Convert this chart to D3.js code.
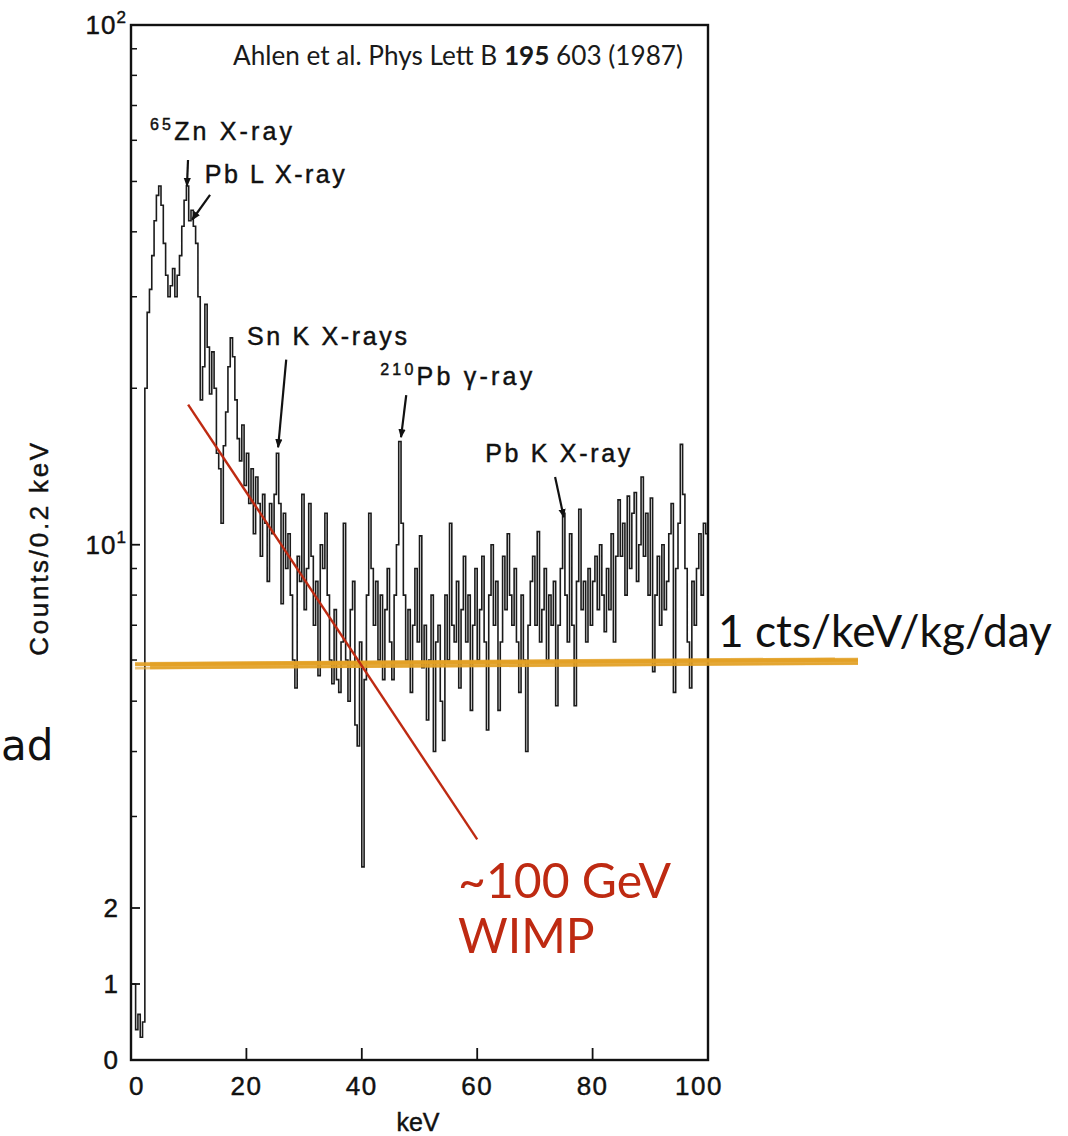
<!DOCTYPE html>
<html><head><meta charset="utf-8">
<script src="https://cdn.jsdelivr.net/npm/d3@7"></script>
<style>body{margin:0;background:#fff}svg{display:block}</style>
</head><body>
<svg id="c" width="1068" height="1136"></svg>
<script>
// ---------- data ----------
const binWidth = 0.4; // keV per plotted bin
const counts = [
 1.0,1.0,0.4,0.6,0.3,0.5,20,28,31,36,
 42,47,49,45,38,33,30,31.5,34,30,
 33,36,41,46,49,42,44,41,38,30,
 19,22,29,24,19.5,23.5,20,15,14,11,
 15.5,18,22,25,23,19,16,14.5,17,13,
 15,12,14,10.5,13.5,12,9.5,12.5,11,8.5,
 12,10.5,12.5,15,12,7.7,11.5,9,10.5,8,
 6,5.3,9.5,8.5,12.5,7.5,9,12,9.5,7,
 8.5,5.6,10,9,11.5,8,6,5.4,7.5,5.5,
 5.2,6.5,11,6,5.0,7.5,8.5,4.5,4.1,6.5,
 2.4,5.5,8,11.5,9,7,8.5,6,8,5.5,
 7.5,9,6.5,5.5,8,10,15.8,11,8,6,
 7.5,5.2,7,9,6.5,10.4,5.8,7,4.6,6,
 8,4.0,6.5,7,5,4.2,8,6,11,7,
 6.5,8.5,5.3,7.5,9.5,6.5,8,4.8,7,9,
 6,7.5,9.5,6.5,4.4,8,10,7,8.5,4.8,
 6.5,9.5,7.5,10.5,8,7,9,6.5,5.2,8,
 6,4.0,7,8.5,9.5,7,10.6,6.5,7.5,9,
 6,8,7,8.5,4.9,7,9,11.5,8,6.5,
 10.5,7,4.9,8.5,11.7,7.5,8.5,6.5,9,7,
 8.5,9.5,7.5,10,8,6.8,9,7.5,10.5,6.5,
 9.5,12.2,9.5,11,8,12.4,9,11.5,12.6,8.5,
 10,13.5,9.5,11.5,8,12.3,5.7,8,9.5,7,
 10,7.5,8.5,10.5,12,5.2,9,11,15.6,12.5,
 9,6.5,5.3,8.5,7,9,10.5,8,11,10.5
];
const xTicks = [0, 20, 40, 60, 80, 100];
const yTickValues = [100, 10, 2, 1, 0];
const yTickBase = ["10", "10", "2", "1", "0"];
const yTickSup = ["2", "1", "", "", ""];
const yMinorTicks = [3, 4, 5, 6, 7, 8, 9, 20, 30, 40, 50, 60, 70, 80, 90];

const peakSup = ["65", "", "", "210", ""];
const peakText = ["Zn X-ray", "Pb L X-ray", "Sn K X-rays", "Pb γ-ray", "Pb K X-ray"];
const peakTextKeV = [3.3, 12.8, 20.1, 43.2, 61.4];
const peakTextCounts = [60.1, 49.7, 24.2, 20.3, 14.4];
const arrowFromKeV = [9.88, 13.7, 26.9, 47.7, 73.5];
const arrowFromCounts = [55.0, 47.1, 22.7, 19.4, 13.5];
const arrowToKeV = [9.7, 10.6, 25.5, 46.8, 75.0];
const arrowToCounts = [49.0, 42.2, 15.4, 16.1, 11.3];

const rateKeV = [0.7, 126];
const rateCounts = [5.85, 5.97];
const rateLabel = "1 cts/keV/kg/day";

const wimpKeV = [9.9, 60.0];
const wimpCounts = [18.6, 2.71];
const wimpLabel = ["~100 GeV", "WIMP"];

const citation = ["Ahlen et al. Phys Lett B ", "195", " 603 (1987)"];
const xLabel = "keV";
const yLabel = "Counts/0.2 keV";
const handNote = "ad";

// ---------- scales ----------
const x = d3.scaleLinear().domain([0, 100]).range([131, 708]);
const yLog = d3.scaleLog().domain([2, 100]).range([908, 25]);
const yLin = d3.scaleLinear().domain([0, 2]).range([1060, 908]);
const y = v => v >= 2 ? yLog(v) : yLin(v);

const svg = d3.select("#c");
const scanFont = "'Liberation Sans', Arial, sans-serif";
const slideFont = "Lato, 'Open Sans', sans-serif";
const ink = "#111";

function fitSpacing(t, w) {
  const n = t.text().length;
  const cur = t.node().getComputedTextLength();
  if (n > 1) t.attr("letter-spacing", ((w - cur) / (n - 1)).toFixed(2));
}
function fitSize(t, w) {
  const fs = parseFloat(t.attr("font-size"));
  const cur = t.node().getComputedTextLength();
  t.attr("font-size", (fs * w / cur).toFixed(2));
}
function scanText(sel) {
  return sel.attr("font-family", scanFont).attr("fill", ink)
    .attr("stroke", ink).attr("stroke-width", 0.45);
}

// handwritten remnant at left
svg.append("text").attr("x", 1).attr("y", 760).attr("font-size", 42)
  .attr("font-family", "'DejaVu Sans'").attr("fill", "#111").text(handNote);

// ---------- spectrum ----------
const pts = counts.map((c, i) => [i * binWidth, c]);
pts.push([100, counts[counts.length - 1]]);
const line = d3.line().x(d => x(d[0])).y(d => y(d[1])).curve(d3.curveStepAfter);
svg.append("path").attr("d", line(pts)).attr("fill", "none")
  .attr("stroke", "#1b1b1b").attr("stroke-width", 1.6).attr("stroke-linejoin", "miter");

// ---------- frame & ticks ----------
svg.append("rect").attr("x", x(0)).attr("y", y(100)).attr("width", x(100) - x(0))
  .attr("height", y(0) - y(100)).attr("fill", "none").attr("stroke", ink).attr("stroke-width", 2.4);

const gx = svg.append("g");
xTicks.forEach(t => {
  if (t > 0 && t < 100)
    gx.append("line").attr("x1", x(t)).attr("x2", x(t)).attr("y1", y(0)).attr("y2", y(0) - 12)
      .attr("stroke", ink).attr("stroke-width", 1.8);
  const dx = t === 0 ? 6 : (t === 100 ? -9 : 0);
  scanText(gx.append("text")).attr("x", x(t) + dx).attr("y", 1095).attr("text-anchor", "middle")
    .attr("font-size", 26).attr("letter-spacing", 1.5).text(t);
});
scanText(svg.append("text")).attr("x", 418).attr("y", 1131).attr("text-anchor", "middle")
  .attr("font-size", 25).text(xLabel);

const gy = svg.append("g");
yMinorTicks.forEach(v => gy.append("line").attr("x1", x(0)).attr("x2", x(0) + 6)
  .attr("y1", y(v)).attr("y2", y(v)).attr("stroke", ink).attr("stroke-width", 1.5));
yTickValues.forEach((v, i) => {
  if (v > 0 && v < 100)
    gy.append("line").attr("x1", x(0)).attr("x2", x(0) + 9).attr("y1", y(v)).attr("y2", y(v))
      .attr("stroke", ink).attr("stroke-width", 1.8);
  const hasSup = yTickSup[i] !== "";
  const t = scanText(gy.append("text")).attr("x", hasSup ? 127 : 119).attr("y", y(v) + 9)
    .attr("text-anchor", "end").attr("font-size", 26).attr("letter-spacing", 1);
  t.append("tspan").text(yTickBase[i]);
  if (hasSup) t.append("tspan").attr("font-size", 17).attr("dy", -11).text(yTickSup[i]);
});
const yl = scanText(svg.append("text")).attr("transform", "translate(48,548) rotate(-90)")
  .attr("text-anchor", "middle").attr("font-size", 26).text(yLabel);
fitSpacing(yl, 213);

// ---------- peak annotations ----------
const peakWidths = [142, 140, 160, 152, 145];
peakText.forEach((s, i) => {
  const g = scanText(svg.append("text")).attr("x", x(peakTextKeV[i])).attr("y", y(peakTextCounts[i]))
    .attr("font-size", 25);
  if (peakSup[i]) {
    g.append("tspan").attr("font-size", 16).attr("dy", -10).text(peakSup[i]);
    g.append("tspan").attr("dy", 10).text(s);
  } else g.append("tspan").text(s);
  fitSpacing(g, peakWidths[i]);
});
const defs = svg.append("defs");
defs.append("marker").attr("id", "ah").attr("viewBox", "0 0 10 10").attr("refX", 9).attr("refY", 5)
  .attr("markerWidth", 9).attr("markerHeight", 9).attr("orient", "auto")
  .attr("markerUnits", "userSpaceOnUse")
  .append("path").attr("d", "M0,1 L10,5 L0,9 z").attr("fill", ink);
arrowFromKeV.forEach((k, i) => {
  svg.append("line").attr("x1", x(k)).attr("y1", y(arrowFromCounts[i]))
    .attr("x2", x(arrowToKeV[i])).attr("y2", y(arrowToCounts[i]))
    .attr("stroke", ink).attr("stroke-width", 2.2).attr("marker-end", "url(#ah)");
});

// ---------- citation ----------
const cit = svg.append("text").attr("x", 233).attr("y", 65).attr("font-family", slideFont)
  .attr("font-size", 21).attr("fill", "#1a1a1a");
cit.append("tspan").text(citation[0]);
cit.append("tspan").attr("font-weight", 700).text(citation[1]);
cit.append("tspan").text(citation[2]);
fitSize(cit, 450);

// ---------- rate line (brush stroke) ----------
const rateColor = "#E2A024";
const brush = svg.append("g");
[[0, 7, 0.85], [-2.5, 2.5, 0.7], [2.5, 2.5, 0.6], [-1, 3, 0.9]].forEach(([off, w, op], j) => {
  const k0 = j === 0 ? rateKeV[0] + 2.6 : rateKeV[0];
  const k1 = j === 1 ? rateKeV[1] - 4 : rateKeV[1];
  brush.append("line").attr("x1", x(k0)).attr("y1", y(rateCounts[0]) + off)
    .attr("x2", x(k1)).attr("y2", y(rateCounts[1]) + off)
    .attr("stroke", rateColor).attr("stroke-width", w).attr("stroke-opacity", op);
});
const rl = svg.append("text").attr("x", 718).attr("y", 647).attr("font-family", slideFont)
  .attr("font-size", 42).attr("fill", "#111").text(rateLabel);
fitSize(rl, 334);

// ---------- WIMP line ----------
const red = "#BE2A12";
svg.append("line").attr("x1", x(wimpKeV[0])).attr("y1", y(wimpCounts[0]))
  .attr("x2", x(wimpKeV[1])).attr("y2", y(wimpCounts[1]))
  .attr("stroke", red).attr("stroke-width", 2.4);
const w1 = svg.append("text").attr("x", 458).attr("y", 898).attr("font-family", slideFont)
  .attr("font-size", 44).attr("fill", red).text(wimpLabel[0]);
fitSize(w1, 213);
const fsW = w1.attr("font-size");
svg.append("text").attr("x", 458).attr("y", 953).attr("font-family", slideFont)
  .attr("font-size", fsW).attr("fill", red).text(wimpLabel[1]);
</script>
</body></html>
